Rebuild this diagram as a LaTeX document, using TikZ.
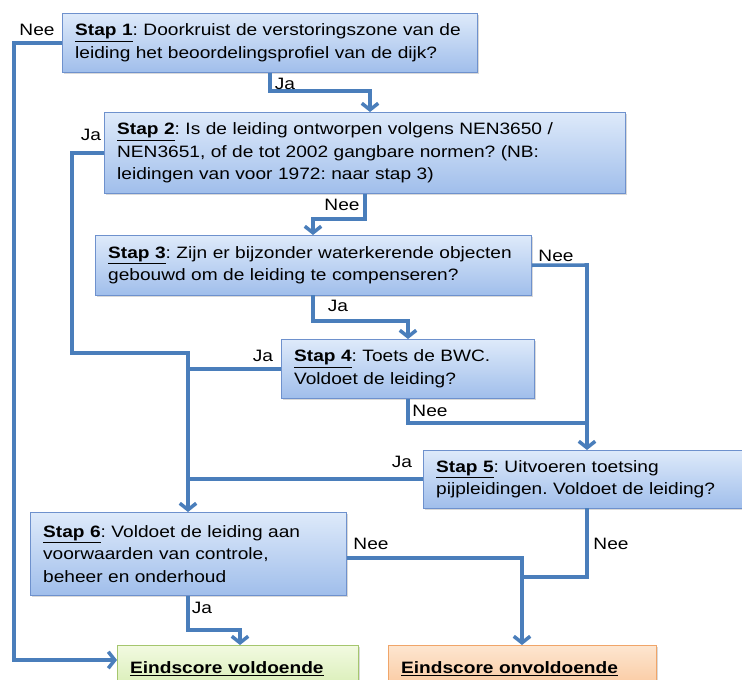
\documentclass[tikz,border=0pt]{standalone}
\usepackage{fontspec}
\setmainfont[FakeStretch=1.16]{Liberation Sans}
\usetikzlibrary{arrows.meta,shadows}

\definecolor{flowblue}{RGB}{74,126,187}
\definecolor{boxtop}{RGB}{222,234,250}
\definecolor{boxbot}{RGB}{160,190,235}
\definecolor{boxline}{RGB}{110,145,205}
\definecolor{goodtop}{RGB}{242,250,225}
\definecolor{goodbot}{RGB}{214,237,178}
\definecolor{goodline}{RGB}{165,198,110}
\definecolor{badtop}{RGB}{253,230,208}
\definecolor{badbot}{RGB}{250,198,155}
\definecolor{badline}{RGB}{240,165,105}

\tikzset{
    stapbox/.style={draw=boxline, top color=boxtop, bottom color=boxbot,
        anchor=north west, align=left, inner xsep=11pt, inner ysep=0pt,
        drop shadow={opacity=0.3, shadow xshift=1.5pt, shadow yshift=-1.5pt},
        font=\fontsize{14}{19}\selectfont},
    goodbox/.style={stapbox, draw=goodline, top color=goodtop, bottom color=goodbot},
    badbox/.style={stapbox, draw=badline, top color=badtop, bottom color=badbot},
    flow/.style={draw=flowblue, line width=3pt},
    arr/.style={flow, -{Straight Barb[length=5.5pt,width=14pt]}},
    lbl/.style={font=\fontsize{14}{16}\selectfont, inner sep=0pt},
}
\newcommand{\stapkop}[1]{\underline{\textbf{Stap #1}}: }

\begin{document}
\frenchspacing
\begin{tikzpicture}[x=0.85pt, y=-0.85pt]
    \useasboundingbox (0,0) rectangle (742,679);
    \clip (0,0) rectangle (742,679);

    % Stappen
    \node[stapbox, text width=331pt, minimum height=50.2pt] (s1) at (62,13)
        {\stapkop{1}Doorkruist de verstoringszone van de\\leiding het beoordelingsprofiel van de dijk?};
    \node[stapbox, text width=421pt, minimum height=68.9pt] (s2) at (104,112)
        {\stapkop{2}Is de leiding ontworpen volgens NEN3650 /\\NEN3651, of de tot 2002 gangbare normen? (NB:\\leidingen van voor 1972: naar stap 3)};
    \node[stapbox, text width=349pt, minimum height=51pt] (s3) at (95,235)
        {\stapkop{3}Zijn er bijzonder waterkerende objecten\\gebouwd om de leiding te compenseren?};
    \node[stapbox, text width=193pt, minimum height=50.2pt] (s4) at (281,339)
        {\stapkop{4}Toets de BWC.\\Voldoet de leiding?};
    \node[stapbox, text width=257pt, minimum height=49.3pt] (s5) at (423,450)
        {\stapkop{5}Uitvoeren toetsing\\pijpleidingen. Voldoet de leiding?};
    \node[stapbox, text width=247pt, minimum height=70.6pt] (s6) at (30,512)
        {\stapkop{6}Voldoet de leiding aan\\voorwaarden van controle,\\beheer en onderhoud};

    % Eindscores
    \node[goodbox, text width=183pt, minimum height=40pt] (e1) at (117,645)
        {\underline{\textbf{Eindscore voldoende}}};
    \node[badbox, text width=206pt, minimum height=40pt] (e2) at (388,645)
        {\underline{\textbf{Eindscore onvoldoende}}};

    % knikpunten
    \coordinate (c1) at (14,660);
    \coordinate (c2) at (270,91);
    \coordinate (c3) at (370,91);
    \coordinate (c4) at (72,353);
    \coordinate (c5) at (188,353);
    \coordinate (c6) at (365,219);
    \coordinate (c7) at (313,219);
    \coordinate (c8) at (587,265);
    \coordinate (c9) at (313,321);
    \coordinate (c10) at (408,321);
    \coordinate (c11) at (408,423);
    \coordinate (c12) at (587,577);
    \coordinate (c13) at (522,577);
    \coordinate (c14) at (522,558);
    \coordinate (c15) at (188,630);
    \coordinate (c16) at (240,630);

    % verbindingen
    \draw[arr] (s1.west) -| (c1) -- (e1.west |- c1);
    \draw[arr] (s1.south -| c2) -- (c2) -- (c3) -- (s2.north -| c3);
    \draw[arr] (s2.west) -| (c4) -- (c5) -- (s6.north -| c5);
    \draw[arr] (s2.south -| c6) -- (c6) -- (c7) -- (s3.north -| c7);
    \draw[arr] (s3.east) -- (c8) -- (s5.north -| c8);
    \draw[arr] (s3.south -| c9) -- (c9) -- (c10) -- (s4.north -| c10);
    \draw[flow] (s4.west) -- (s4.west -| c5);
    \draw[flow] (s4.south -| c11) -- (c11) -- (c11 -| c8);
    \draw[flow] (s5.west) -- (s5.west -| c5);
    \draw[flow] (s5.south -| c12) -- (c12) -- (c13);
    \draw[arr] (s6.east |- c14) -- (c14) -- (e2.north -| c14);
    \draw[arr] (s6.south -| c15) -- (c15) -- (c16) -- (e1.north -| c16);

    % labels
    \node[lbl] (l1) at (37,30) {Nee};
    \node[lbl] (l2) at (285,84) {Ja};
    \node[lbl] (l3) at (91,135) {Ja};
    \node[lbl] (l4) at (342,205) {Nee};
    \node[lbl] (l5) at (556,256) {Nee};
    \node[lbl] (l6) at (338,306) {Ja};
    \node[lbl] (l7) at (263,356) {Ja};
    \node[lbl] (l8) at (430,411) {Nee};
    \node[lbl] (l9) at (402,462) {Ja};
    \node[lbl] (l10) at (371,544) {Nee};
    \node[lbl] (l11) at (611,544) {Nee};
    \node[lbl] (l12) at (202,608) {Ja};
\end{tikzpicture}
\end{document}
